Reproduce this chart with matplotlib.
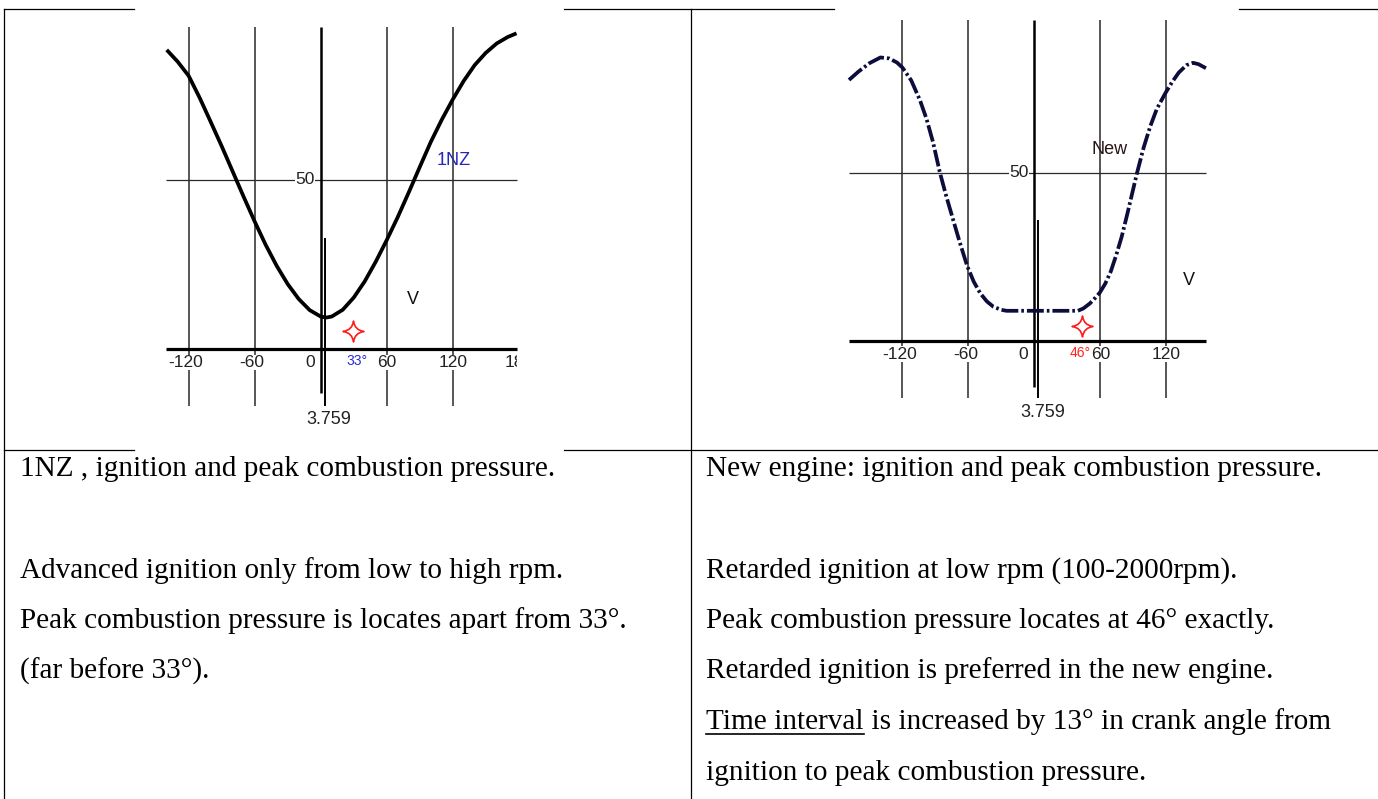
import matplotlib.pyplot as plt
from matplotlib.path import Path
from matplotlib.patches import Rectangle

W, H = 1378, 799

# 1NZ curve (crank angle deg, pressure)
nz_angle = [-140, -130, -120, -110, -100, -90, -80, -70, -60, -50, -40, -30, -20,
            -10, 0, 5, 10, 20, 30, 40, 50, 60, 70, 80, 90, 100, 110, 120, 130,
            140, 150, 160, 170, 178]
nz_pressure = [88.5, 85, 80.8, 74.3, 67.2, 60, 52.5, 45, 37.7, 30.8, 24.6, 19.2, 14.8,
               11.5, 9.6, 9.3, 9.6, 11.6, 15.2, 20, 25.8, 32.2, 39, 46.3, 53.8, 61.2,
               67.8, 73.8, 79.3, 84, 87.6, 90.4, 92.3, 93.4]

# new engine curve
new_angle = [-168.7, -160, -150, -140, -132, -125, -120, -112, -104, -98, -92, -86,
             -80, -74, -68, -61, -55, -49, -43, -37, -30, -25, 40, 45, 51, 56, 60,
             65, 70, 75, 80, 85, 90, 94, 100, 106, 112, 120, 126, 132, 139, 145,
             150, 156.8]
new_pressure = [77.6, 80.1, 82.6, 84.3, 84, 82.8, 81.3, 77.5, 71.6, 66, 59, 50.3,
                43, 36.3, 29.6, 22.3, 17.6, 14.1, 11.7, 10.1, 9.2, 8.9, 8.9, 9.6,
                11.1, 12.8, 14.3, 17, 20.6, 25.5, 31, 37.6, 44.5, 50, 57.5, 63.8,
                69, 73.8, 77, 79.8, 82, 82.7, 82.3, 81.1]

nz_ticks = [-120, -60, 0, 60, 120, 180]
nz_grid = [-120, -60, 60, 120]
new_ticks = [-120, -60, 0, 60, 120]
new_grid = [-120, -60, 60, 120]
ignition_angle = 3.759
nz_peak = 29       # red star positions
new_peak = 43.8

left_lines = [
    (476.5, "1NZ , ignition and peak combustion pressure."),
    (577.5, "Advanced ignition only from low to high rpm."),
    (628, "Peak combustion pressure is locates apart from 33°."),
    (678.5, "(far before 33°)."),
]
right_lines = [
    (476.5, "New engine: ignition and peak combustion pressure."),
    (577.5, "Retarded ignition at low rpm (100-2000rpm)."),
    (628, "Peak combustion pressure locates at 46° exactly."),
    (678.5, "Retarded ignition is preferred in the new engine."),
    (779.5, "ignition to peak combustion pressure."),
]

SANS = "Liberation Sans"
SERIF = "Liberation Serif"
TXT_SIZE = 21.1

fig = plt.figure(figsize=(W / 100, H / 100), dpi=100)

# background axes in pixel units for the table
bg = fig.add_axes([0, 0, 1, 1])
bg.set_xlim(0, W)
bg.set_ylim(H, 0)
bg.axis('off')

lc = 'black'
lw = 0.9
for x0, x1 in [(4, 134), (564, 834), (1239, W)]:
    bg.plot([x0, x1], [8.5, 8.5], color=lc, lw=lw)
for x0, x1 in [(4, 134), (564, W)]:
    bg.plot([x0, x1], [450, 450], color=lc, lw=lw)
bg.plot([4, 4], [8.5, H], color=lc, lw=lw)
bg.plot([691, 691], [8.5, H], color=lc, lw=lw)

for y, s in left_lines:
    bg.text(20, y, s, family=SERIF, fontsize=TXT_SIZE, va='baseline', ha='left')
for y, s in right_lines:
    bg.text(706, y, s, family=SERIF, fontsize=TXT_SIZE, va='baseline', ha='left')

# underlined phrase
t1 = bg.text(706, 729, "Time interval", family=SERIF, fontsize=TXT_SIZE,
             va='baseline', ha='left')
fig.canvas.draw()
bb = t1.get_window_extent()
bg.plot([bb.x0, bb.x1], [733.5, 733.5], color='black', lw=1.2)
bg.text(bb.x1, 729, " is increased by 13° in crank angle from", family=SERIF,
        fontsize=TXT_SIZE, va='baseline', ha='left')

# star marker
star = Path([(0, 1), (0.12, 0.12), (1, 0), (0.12, -0.12), (0, -1), (-0.12, -0.12),
             (-1, 0), (-0.12, 0.12), (0, 1), (0, 1)],
            [Path.MOVETO] + [Path.CURVE3] * 8 + [Path.CLOSEPOLY])


def place_chart(box, zero_px, deg_px, base_px, val_px):
    x, y, w, h = box
    ax = fig.add_axes([x / W, 1 - (y + h) / H, w / W, h / H])
    ax.set_xlim((x - zero_px) / deg_px, (x + w - zero_px) / deg_px)
    ax.set_ylim((base_px - (y + h)) / val_px, (base_px - y) / val_px)
    ax.axis('off')
    ax.patch.set_alpha(0)
    return ax


def draw_frame(ax, ticks, grid, xmin, xmax, top, bot, axis_bot, ign_top):
    ax.vlines(grid, bot, top, color='#3a3a3a', lw=1.2, zorder=1)
    ax.vlines(0, axis_bot, top, color='black', lw=1.8, zorder=2)
    ax.vlines(ignition_angle, bot, ign_top, color='black', lw=1.4, zorder=2)
    ax.hlines(50, xmin, xmax, color='#2a2a2a', lw=0.9, zorder=1)
    ax.hlines(0, xmin, xmax, color='black', lw=2.3, zorder=2)
    ax.text(-14, 50, "50", family=SANS, fontsize=12.5, ha='center', va='center',
            color='#222222', bbox=dict(fc='white', ec='none', pad=0.3), zorder=3)
    clip = Rectangle((xmin, -40), xmax - xmin, 200, transform=ax.transData)
    for t in ticks:
        if t == 0:
            tx = -9.5
        elif t < 0:
            tx = t - 2.5
        else:
            tx = t + 0.5
        txt = ax.text(tx, -4, str(t), family=SANS, fontsize=12.5, ha='center',
                      va='center', color='#222222',
                      bbox=dict(fc='white', ec='none', pad=0.2), zorder=3)
        txt.set_clip_on(True)
        txt.set_clip_path(clip)


# left chart: 1NZ
axl = place_chart((140, 10, 405, 430), 320.7, 1.1, 349, 3.38)
draw_frame(axl, nz_ticks, nz_grid, -140.6, 178.5, 95.3, -16.9, -13, 32.8)
axl.plot(nz_angle, nz_pressure, color='black', lw=2.7, zorder=4,
         solid_capstyle='butt', solid_joinstyle='round')
axl.plot([nz_peak], [5.3], marker=star, ms=15, mfc='white', mec='#ff1a1a',
         mew=1.2, ls='none', zorder=5)
axl.text(121, 55.7, "1NZ", family=SANS, fontsize=13, color='#2626b8',
         ha='center', va='center')
axl.text(84, 14.5, "V", family=SANS, fontsize=13, color='#111111',
         ha='center', va='center')
axl.text(32.7, -3.6, "33°", family=SANS, fontsize=10, color='#2b2bd0',
         ha='center', va='center')
axl.text(7.5, -20.8, "3.759", family=SANS, fontsize=13, color='#222222',
         ha='center', va='center')

# right chart: new engine
axr = place_chart((835, 5, 400, 435), 1034, 1.0967, 340.7, 3.36)
draw_frame(axr, new_ticks, new_grid, -168.7, 156.8, 95.4, -17.1, -13.8, 35.9)
axr.plot(new_angle, new_pressure, color='#0d0d3d', lw=2.7, zorder=4,
         ls=(0, (4.5, 0.8, 0.7, 0.8)))
axr.plot([new_peak], [4.5], marker=star, ms=15, mfc='white', mec='#ff1a1a',
         mew=1.2, ls='none', zorder=5)
axr.text(69.3, 57, "New", family=SANS, fontsize=13, color='#2a1515',
         ha='center', va='center')
axr.text(141.3, 18, "V", family=SANS, fontsize=13, color='#111111',
         ha='center', va='center')
axr.text(42, -3.8, "46°", family=SANS, fontsize=10, color='#ff2020',
         ha='center', va='center', bbox=dict(fc='white', ec='none', pad=0.1),
         zorder=3)
axr.text(8.2, -21.5, "3.759", family=SANS, fontsize=13, color='#222222',
         ha='center', va='center')

fig.savefig('out.png', dpi=100)
